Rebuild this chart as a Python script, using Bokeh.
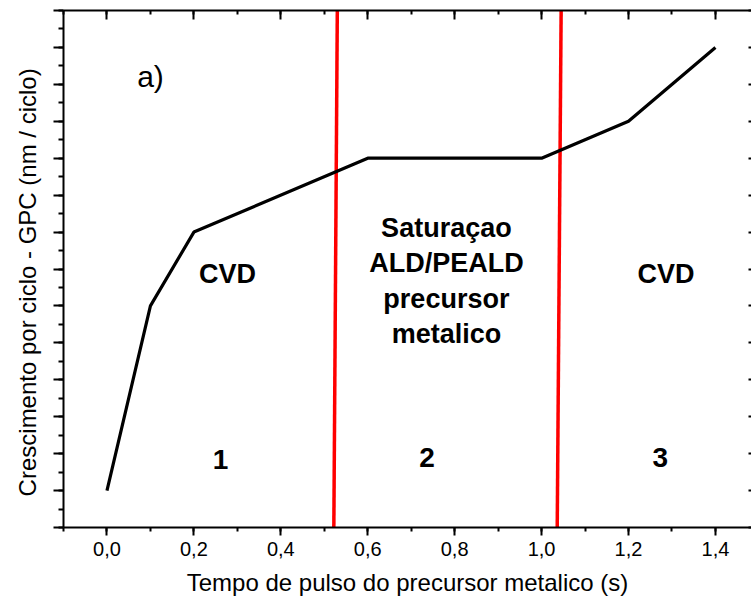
from bokeh.plotting import figure
from bokeh.models import (LinearAxis, SingleIntervalTicker, CustomJSTickFormatter,
                          Range1d, ColumnDataSource)
from bokeh.core.properties import value
from bokeh.embed import file_html
from bokeh.resources import INLINE

# ---- data ----
pulse_time = [0.0, 0.1, 0.2, 0.6, 1.0, 1.2, 1.4]          # s
gpc = [1, 6, 8, 10, 10, 11, 13]                              # arbitrary GPC units
boundary_bottom = [0.522, 1.036]                             # red regime limits (at bottom)
boundary_top = [0.530, 1.045]                                # red regime limits (at top)
x_label = "Tempo de pulso do precursor metalico (s)"
y_label = "Crescimento por ciclo - GPC (nm / ciclo)"

FONT = "Liberation Sans"
X0, X1 = -0.1, 1.483
Y0, Y1 = 0.0, 14.0

p = figure(width=751, height=604, x_range=Range1d(X0, X1), y_range=Range1d(Y0, Y1),
           output_backend="svg", toolbar_location=None,
           min_border_left=63, min_border_right=0, min_border_top=10, min_border_bottom=77,
           background_fill_color="white", border_fill_color="white")
p.outline_line_color = None
p.grid.visible = False

blank = CustomJSTickFormatter(code="return '';")
fmt = CustomJSTickFormatter(code="return tick.toFixed(1).replace('.', ',');")

p.xaxis.ticker = SingleIntervalTicker(interval=0.2, num_minor_ticks=2)
p.xaxis.formatter = fmt
p.yaxis.ticker = SingleIntervalTicker(interval=1, num_minor_ticks=2)
p.yaxis.formatter = blank

for ax in (p.xaxis[0], p.yaxis[0]):
    ax.axis_line_width = 2
    ax.major_tick_line_width = 2
    ax.minor_tick_line_width = 2
    ax.axis_line_color = "black"
    ax.major_tick_line_color = "black"
    ax.minor_tick_line_color = "black"
    ax.major_tick_in = 0
    ax.minor_tick_in = 0
    ax.axis_label_text_font = FONT
    ax.axis_label_text_font_size = "24px"
    ax.axis_label_text_font_style = "normal"
    ax.axis_label_text_color = "black"

p.xaxis.major_tick_out = 8
p.xaxis.minor_tick_out = 4
p.xaxis.major_label_text_font = FONT
p.xaxis.major_label_text_font_size = "20px"
p.xaxis.major_label_text_color = "black"
p.xaxis.major_label_standoff = 6
p.xaxis.axis_label = x_label
p.xaxis.axis_label_standoff = 10

p.yaxis.major_tick_out = 10
p.yaxis.minor_tick_out = 5
p.yaxis.major_label_standoff = 0
p.yaxis.axis_label = y_label + "\u00a0\u00a0\u00a0\u00a0"
p.yaxis.axis_label_standoff = 13

top = LinearAxis(ticker=SingleIntervalTicker(interval=0.2, num_minor_ticks=2),
                 formatter=blank, major_label_standoff=0,
                 major_tick_in=9, major_tick_out=0, minor_tick_in=4, minor_tick_out=0,
                 axis_line_width=2, major_tick_line_width=2, minor_tick_line_width=2)
p.add_layout(top, "above")

right = LinearAxis(ticker=SingleIntervalTicker(interval=1, num_minor_ticks=1),
                   formatter=blank, major_label_standoff=0,
                   major_tick_in=3, major_tick_out=0, minor_tick_in=0, minor_tick_out=0,
                   axis_line_color=None, major_tick_line_width=2)
p.add_layout(right, "right")

# regime boundaries
bsrc = ColumnDataSource(dict(x0=boundary_bottom, x1=boundary_top,
                             y0=[Y0] * len(boundary_bottom), y1=[Y1] * len(boundary_top)))
p.segment(x0="x0", y0="y0", x1="x1", y1="y1", source=bsrc, line_color="#ff0000", line_width=3.5)

# GPC curve
p.line(pulse_time, gpc, line_color="black", line_width=3.2)

# annotations
def txt(x, y, s, size, bold=True, align="center"):
    p.text(x=[x], y=[y + 0.26], text=[s], text_font=value(FONT), text_font_size=size,
           text_font_style="bold" if bold else "normal", text_align=align,
           text_baseline="alphabetic", text_color="black")

txt(0.0695, 11.96, "a)", "30px", bold=False, align="left")
txt(0.2773, 6.60, "CVD", "27px")
txt(1.2862, 6.60, "CVD", "27px")
txt(0.781, 7.85, "Saturaçao", "27px")
txt(0.781, 6.89, "ALD/PEALD", "27px")
txt(0.781, 5.93, "precursor", "27px")
txt(0.781, 4.97, "metalico", "27px")
txt(0.2612, 1.57, "1", "28px")
txt(0.7363, 1.63, "2", "28px")
txt(1.2729, 1.63, "3", "28px")

open("out.html", "w").write(file_html(p, INLINE))
